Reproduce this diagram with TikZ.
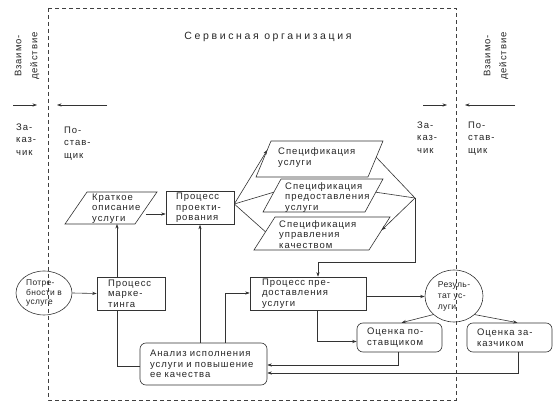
\documentclass[tikz,border=0pt]{standalone}
\usepackage{fontspec}
\setmainfont{Liberation Sans}[LetterSpace=10]
\newfontfamily\titlefont{Liberation Sans}[LetterSpace=25]
\newfontfamily\tightfont{Liberation Sans}[LetterSpace=4]
\usetikzlibrary{shapes.geometric,arrows.meta,calc}
\tikzset{
  lw/.style={line width=0.6pt, draw=black!80},
  txt/.style={font=\fontsize{9.5}{10.5}\selectfont, align=left, text=black!85, inner sep=0pt},
  side/.style={txt, font=\fontsize{9.5}{12.5}\selectfont},
  box/.style={txt, lw, rectangle, text width=#1},
  rbox/.style={txt, lw, rectangle, rounded corners=6pt, text width=#1},
  para/.style={lw, trapezium, outer sep=0pt},
  ell/.style={txt, lw, ellipse, inner xsep=-6pt, inner ysep=-4pt},
  arr/.style={lw, -{Stealth[length=4.5pt,width=3.2pt]}},
  ln/.style={lw},
  frame/.style={line width=0.7pt, draw=black!75, dash pattern=on 4pt off 3pt},
}
\begin{document}
\begin{tikzpicture}[x=1pt,y=-1pt]
\useasboundingbox (0,0) rectangle (560,411);
\fill[white] (0,0) rectangle (560,411);
% frame
\draw[frame] (48,8) rectangle (456,400);
\node[txt, font=\titlefont\fontsize{10.5}{12}\selectfont] (title) at (268,37) {Сервисная организация};
% left side labels
\node[txt, font=\fontsize{9.5}{16}\selectfont, rotate=90, align=center] (vz1) at (27,56) {Взаимо-\\действие};
\node[side, anchor=base west] (zak1) at (16,155.5) {За-\\каз-\\чик};
\node[side, anchor=base west] (post1) at (64,158.5) {По-\\став-\\щик};
\coordinate (la1) at (13,105); \coordinate (la2) at (37,105);
\coordinate (la3) at (107,105); \coordinate (la4) at (57,105);
\draw[arr] (la1) -- (la2);
\draw[arr] (la3) -- (la4);
% right side labels
\node[txt, font=\fontsize{9.5}{16}\selectfont, rotate=90, align=center] (vz2) at (496,56) {Взаимо-\\действие};
\node[side, anchor=base west] (zak2) at (417,153.5) {За-\\каз-\\чик};
\node[side, anchor=base west] (post2) at (468,153.5) {По-\\став-\\щик};
\coordinate (ra1) at (423,105); \coordinate (ra2) at (447,105);
\coordinate (ra3) at (515,105); \coordinate (ra4) at (465,105);
\draw[arr] (ra1) -- (ra2);
\draw[arr] (ra3) -- (ra4);
% nodes
\node[ell, font=\tightfont\fontsize{8.4}{9.3}\selectfont, minimum width=56, minimum height=44] (potr) at (44,293) {Потре-\\бности в\\услуге};
\node[box=46pt, minimum width=68, minimum height=33] (mark) at (131,293.5) {Процесс\\марке-\\тинга};
\node[para, inner xsep=24pt, inner ysep=16pt, trapezium left angle=55.5, trapezium right angle=124.5] (krat) at (111,208) {};
\node[txt, anchor=base west] (kratt) at (92,221.3) {Краткое\\описание\\услуги};
\node[box=48pt, minimum width=68, minimum height=33] (proj) at (200,208) {Процесс\\проекти-\\рования};
\node[para, inner xsep=48.5pt, inner ysep=18pt, trapezium left angle=67.4, trapezium right angle=112.6] (spec1) at (319.5,159) {};
\node[txt, anchor=base west] (spec1t) at (278,165.3) {Спецификация\\услуги};
\node[para, inner xsep=42pt, inner ysep=16.5pt, trapezium left angle=61.4, trapezium right angle=118.6] (spec2) at (323,195.5) {};
\node[txt, anchor=base west] (spec2t) at (285,210.3) {Спецификация\\предоставления\\услуги};
\node[para, inner xsep=47pt, inner ysep=16.5pt, trapezium left angle=57.5, trapezium right angle=122.5] (spec3) at (322,233.5) {};
\node[txt, anchor=base west] (spec3t) at (279,248.3) {Спецификация\\управления\\качеством};
\coordinate (C) at (415,198);
\node[box=92pt, minimum width=116, minimum height=33] (pred) at (308,293.5) {Процесс пре-\\доставления\\услуги};
\node[ell, font=\tightfont\fontsize{8.6}{11}\selectfont, minimum width=58, minimum height=52] (rez) at (454,296) {Резуль-\\тат ус-\\луги};
\node[rbox=65pt, minimum width=85, minimum height=29] (ocp) at (399.5,337.5) {Оценка по-\\ставщиком};
\node[rbox=65pt, minimum width=85, minimum height=29] (ocz) at (509.5,337.5) {Оценка за-\\казчиком};
\node[rbox=107pt, minimum width=127, minimum height=42] (anal) at (203.5,364) {Анализ исполнения\\услуги и повышение\\ее качества};
% connectors
\draw[arr] (potr.east) -- (mark.west);
\draw[arr] ([xshift=-14pt]mark.north) -- ([xshift=-14pt]mark.north |- krat.south);
\draw[ln] ([xshift=-14pt]mark.south) |- ([yshift=-2pt]anal.west);
\draw[arr] ([yshift=-6pt]krat.east) -- ([yshift=-6pt]proj.west);
\draw[arr] ([yshift=4pt]proj.east) -- ($(spec1.top left corner)!0.25!(spec1.bottom left corner)$);
\draw[ln] ([yshift=4pt]proj.east) -- ($(spec2.top left corner)!0.4!(spec2.bottom left corner)$);
\draw[ln] ([yshift=4pt]proj.east) -- ($(spec3.top left corner)!0.45!(spec3.bottom left corner)$);
\draw[ln] ($(spec1.top right corner)!0.45!(spec1.bottom right corner)$) -- (C);
\draw[ln] ($(spec2.top right corner)!0.4!(spec2.bottom right corner)$) -- (C);
\draw[arr] (C) -- ($(spec3.top right corner)!0.4!(spec3.bottom right corner)$);
\draw[arr] (C) -- ++(0,64) -| ([xshift=10pt]pred.north);
\draw[arr] ([yshift=-3pt]pred.east) -- ([yshift=-3pt]pred.east -| rez.west);
\draw[arr] ([xshift=9pt]pred.south) |- ([yshift=-4pt]ocp.west);
\draw[arr] (rez.south west) -- ([xshift=2pt]ocp.north);
\draw[arr] (rez.south east) -- ([xshift=8pt]ocz.north);
\draw[arr] ([xshift=-1.5pt]ocp.south) |- ([yshift=-1pt]anal.east);
\draw[arr] ([xshift=8.5pt]ocz.south) |- ([yshift=-9pt]anal.east);
\draw[arr] (proj.south |- anal.north) -- (proj.south);
\draw[arr] ([xshift=21.5pt]anal.north) |- ([yshift=0.5pt]pred.west);
\end{tikzpicture}
\end{document}
